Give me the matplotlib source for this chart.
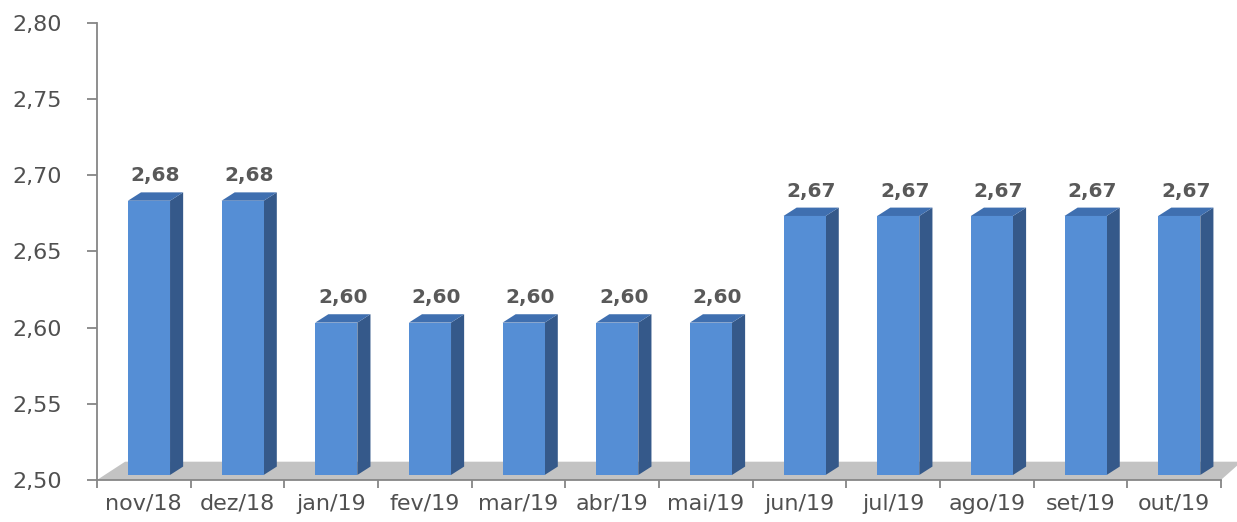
import matplotlib.pyplot as plt
from matplotlib.patches import Polygon
from matplotlib.ticker import FuncFormatter, FixedLocator

# dados do gráfico
meses = ['nov/18', 'dez/18', 'jan/19', 'fev/19', 'mar/19', 'abr/19', 'mai/19',
         'jun/19', 'jul/19', 'ago/19', 'set/19', 'out/19']
valores = [2.68, 2.68, 2.60, 2.60, 2.60, 2.60, 2.60, 2.67, 2.67, 2.67, 2.67, 2.67]

y_min, y_max = 2.50, 2.80

# cores do efeito 3D
cor_frente = '#558ed5'
cor_lado = '#35598a'
cor_topo = '#3f6fb0'
cor_piso = '#c3c3c3'
cor_eixo = '#868686'
cor_texto = '#505050'

fig = plt.figure(figsize=(12.37, 5.22), dpi=100)
ax = fig.add_axes([0.0784, 0.0805, 0.9086, 0.8755])
ax.set_xlim(0, 12)
ax.set_ylim(y_min, y_max)

# profundidade em unidades de dados
dx, dy = 0.14, 0.0055
base = y_min + 0.0033
esq, larg = 0.33, 0.45

# piso cinza
piso = Polygon([(0, y_min), (12, y_min), (12 + 0.22, y_min + 0.012), (0.3, y_min + 0.012)],
               closed=True, facecolor=cor_piso, edgecolor='none', zorder=1, clip_on=False)
ax.add_patch(piso)

for i, v in enumerate(valores):
    x0 = i + esq
    x1 = x0 + larg
    topo = v + 0.0033
    ax.bar(x0, topo - base, width=larg, bottom=base, align='edge',
           color=cor_frente, edgecolor='none', zorder=3)
    lado = Polygon([(x1, base), (x1, topo), (x1 + dx, topo + dy), (x1 + dx, base + dy)],
                   closed=True, facecolor=cor_lado, edgecolor='none', zorder=2)
    ax.add_patch(lado)
    tampa = Polygon([(x0, topo), (x1, topo), (x1 + dx, topo + dy), (x0 + dx, topo + dy)],
                    closed=True, facecolor=cor_topo, edgecolor='none', zorder=3)
    ax.add_patch(tampa)
    ax.annotate(f'{v:.2f}'.replace('.', ','), (x0 + (larg + dx) / 2, topo + dy),
                xytext=(0, 5), textcoords='offset points',
                ha='center', va='bottom', fontsize=14.5, fontweight='bold', color='#595959')

# eixos
for s in ['top', 'right']:
    ax.spines[s].set_visible(False)
for s in ['left', 'bottom']:
    ax.spines[s].set_color(cor_eixo)
    ax.spines[s].set_linewidth(1.3)

ax.set_yticks([2.50, 2.55, 2.60, 2.65, 2.70, 2.75, 2.80])
ax.yaxis.set_major_formatter(FuncFormatter(lambda y, p: f'{y:.2f}'.replace('.', ',')))
ax.tick_params(axis='y', length=7, width=1.3, color=cor_eixo, labelsize=16,
               labelcolor=cor_texto, pad=18)

ax.xaxis.set_major_locator(FixedLocator(range(13)))
ax.xaxis.set_minor_locator(FixedLocator([i + 0.5 for i in range(12)]))
ax.set_xticklabels([], minor=False)
ax.set_xticklabels(meses, minor=True)
ax.tick_params(axis='x', which='major', length=6, width=1.3, color=cor_eixo)
ax.tick_params(axis='x', which='minor', length=0, labelsize=16, labelcolor=cor_texto, pad=10)

fig.savefig('out.png', dpi=100)
